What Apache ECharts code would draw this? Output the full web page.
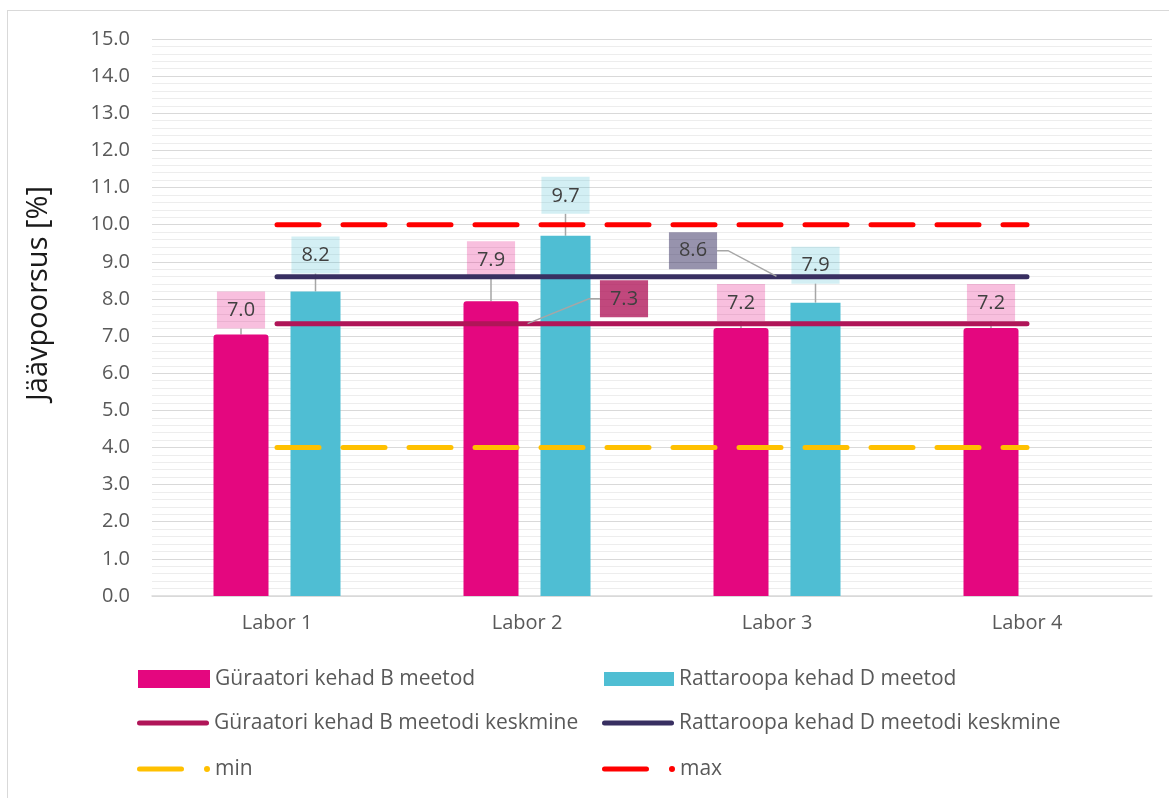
<!DOCTYPE html>
<html lang="et">
<head>
<meta charset="UTF-8">
<title>Jäävpoorsus</title>
<style>
    html, body { margin: 0; padding: 0; background: #fff; }
    #frame { position: absolute; left: 7px; top: 10px; width: 1200px; height: 900px; border: 1px solid #d9d9d9; }
    #main { position: absolute; left: 0; top: 0; width: 1169px; height: 798px; }
</style>
</head>
<body>
<div id="frame"></div>
<div id="main"></div>

<script src="https://cdn.jsdelivr.net/npm/echarts@6/dist/echarts.min.js"></script>
<script>
// andmed
var categories = ['Labor 1', 'Labor 2', 'Labor 3', 'Labor 4'];
var barB = [7.04, 7.94, 7.22, 7.22];
var barD = [8.2, 9.7, 7.9, null];
var meanB = [7.33, 7.33, 7.33, 7.33];
var meanD = [8.6, 8.6, 8.6, 8.6];
var minLine = [4, 4, 4, 4];
var maxLine = [10, 10, 10, 10];
var yMin = 0, yMax = 15, yStep = 1;

var nameBarB = 'Güraatori kehad B meetod';
var nameBarD = 'Rattaroopa kehad D meetod';
var nameMeanB = 'Güraatori kehad B meetodi keskmine';
var nameMeanD = 'Rattaroopa kehad D meetodi keskmine';
var nameMin = 'min';
var nameMax = 'max';

// paigutus
var FONT = "'Open Sans', sans-serif";
var gapB = [6, 23, 7, 7];      // sildi kaugus tulba tipust
var gapD = [18, 22, 19, 0];

var lineIcon = 'path://M2.5,0 H69.5 A2.5,2.5 0 0 1 69.5,5 H2.5 A2.5,2.5 0 0 1 2.5,0 Z';
var dashIcon = 'path://M2.5,0.5 H44.5 A2.5,2.5 0 0 1 44.5,5.5 H2.5 A2.5,2.5 0 0 1 2.5,0.5 Z M67,3 A3,3 0 1 1 73,3 A3,3 0 1 1 67,3 Z';

function fmt(p) { return Number(p.value).toFixed(1); }

function boxLabel(bg) {
    return {
        show: true,
        position: 'top',
        distance: 0,
        formatter: fmt,
        color: '#404040',
        fontFamily: FONT,
        fontSize: 20,
        lineHeight: 20,
        padding: [9, 10, 8, 10],
        backgroundColor: bg
    };
}

var guide = { show: true, length2: 11, lineStyle: { color: '#a6a6a6', width: 1.5 } };

function legendAt(name, left, top, w, h, icon) {
    return {
        data: [name],
        left: left,
        top: top,
        itemWidth: w,
        itemHeight: h,
        icon: icon,
        padding: 0,
        selectedMode: false,
        itemStyle: { borderWidth: 0 },
        textStyle: { fontFamily: FONT, fontSize: 21, color: '#595959', lineHeight: 26 }
    };
}

function meanData(values, idx) {
    return values.map(function (v, i) {
        return i === idx ? { value: v, label: { show: true } } : v;
    });
}

var myChart = echarts.init(document.getElementById('main'));

var option = {
    animation: false,
    grid: { left: 152, right: 17, top: 39, bottom: 202, outerBoundsMode: 'none' },
    legend: [
        legendAt(nameBarB, 138, 666, 72, 18, 'rect'),
        legendAt(nameBarD, 604, 666, 70, 14, 'rect'),
        legendAt(nameMeanB, 137, 710, 72, 5, lineIcon),
        legendAt(nameMeanD, 602, 710, 72, 5, lineIcon),
        legendAt(nameMin, 137, 756, 73, 6, dashIcon),
        legendAt(nameMax, 602, 756, 73, 6, dashIcon)
    ],
    xAxis: {
        type: 'category',
        data: categories,
        axisTick: { show: false },
        axisLine: { lineStyle: { color: '#d9d9d9', width: 1.5 } },
        axisLabel: { color: '#595959', fontFamily: FONT, fontSize: 20, margin: 17 }
    },
    yAxis: {
        type: 'value',
        min: yMin,
        max: yMax,
        interval: yStep,
        name: 'Jäävpoorsus [%]',
        nameLocation: 'middle',
        nameRotate: 90,
        nameGap: 99,
        nameTextStyle: { color: '#1a1a1a', fontFamily: FONT, fontSize: 29, padding: [0, 0, 0, 48] },
        axisLine: { show: false },
        axisTick: { show: false },
        axisLabel: {
            color: '#595959', fontFamily: FONT, fontSize: 20, margin: 22,
            formatter: function (v) { return v.toFixed(1); }
        },
        splitLine: { lineStyle: { color: '#d9d9d9', width: 1 } },
        minorTick: { show: false, splitNumber: 5 },
        minorSplitLine: { show: true, lineStyle: { color: '#ededed', width: 1 } }
    },
    series: [
        {
            name: nameBarB,
            type: 'bar',
            data: barB,
            barWidth: 55,
            barGap: '40%',
            color: '#e4077f',
            itemStyle: { color: '#e4077f', borderRadius: [3, 3, 0, 0] },
            label: boxLabel('rgba(228,7,127,0.26)'),
            labelLine: { show: true, lineStyle: { color: '#a6a6a6', width: 1.5 } },
            labelLayout: function (p) { return { dy: -gapB[p.dataIndex] }; },
            emphasis: { disabled: true }
        },
        {
            name: nameBarD,
            type: 'bar',
            data: barD,
            barWidth: 50,
            color: '#4fbed3',
            itemStyle: { color: '#4fbed3' },
            label: boxLabel('rgba(79,190,211,0.25)'),
            labelLine: { show: true, lineStyle: { color: '#a6a6a6', width: 1.5 } },
            labelLayout: function (p) { return { dy: -gapD[p.dataIndex] }; },
            emphasis: { disabled: true }
        },
        {
            name: nameMeanB,
            type: 'line',
            data: meanData(meanB, 1),
            color: '#b01558',
            symbol: 'circle',
            symbolSize: 1,
            showSymbol: true,
            lineStyle: { color: '#b01558', width: 5, cap: 'round' },
            label: Object.assign(boxLabel('rgba(176,21,88,0.78)'), { show: false, position: 'inside' }),
            labelLine: guide,
            labelLayout: { dx: 97, dy: -25 },
            emphasis: { disabled: true },
            z: 3
        },
        {
            name: nameMeanD,
            type: 'line',
            data: meanData(meanD, 2),
            color: '#382f61',
            symbol: 'circle',
            symbolSize: 1,
            showSymbol: true,
            lineStyle: { color: '#382f61', width: 5, cap: 'round' },
            label: Object.assign(boxLabel('rgba(56,47,97,0.52)'), { show: false, position: 'inside' }),
            labelLine: guide,
            labelLayout: { dx: -84, dy: -26 },
            emphasis: { disabled: true },
            z: 3
        },
        {
            name: nameMin,
            type: 'line',
            data: minLine,
            color: '#ffc000',
            showSymbol: false,
            lineStyle: { color: '#ffc000', width: 5, type: [42, 24], cap: 'round' },
            emphasis: { disabled: true },
            z: 3
        },
        {
            name: nameMax,
            type: 'line',
            data: maxLine,
            color: '#ff0000',
            showSymbol: false,
            lineStyle: { color: '#ff0000', width: 5, type: [42, 24], cap: 'round' },
            emphasis: { disabled: true },
            z: 3
        }
    ]
};

myChart.setOption(option);
</script>
</body>
</html>
